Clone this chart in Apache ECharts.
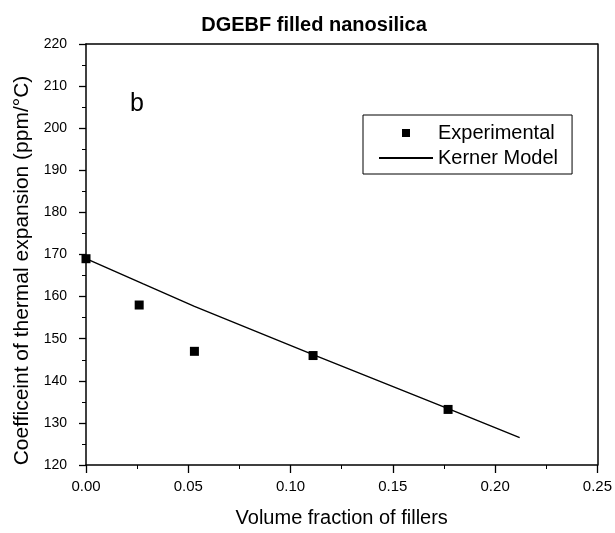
<!DOCTYPE html>
<html>
<head>
<meta charset="utf-8">
<script src="https://cdn.jsdelivr.net/npm/echarts@6/dist/echarts.min.js"></script>
<style>
html,body{margin:0;padding:0;background:#fff;}
#chart{width:615px;height:533px;}
</style>
</head>
<body>
<div id="chart"></div>
<script>
var titleText = 'DGEBF filled nanosilica';
var panelLabel = 'b';
var xAxisTitle = 'Volume fraction of fillers';
var yAxisTitle = 'Coefficeint of thermal expansion (ppm/\u00B0C)';
var seriesNames = ['Experimental', 'Kerner Model'];

var expX = [0.0, 0.026, 0.053, 0.111, 0.177];
var expY = [169.0, 158.0, 147.0, 146.0, 133.2];

var kernerX = [0.0, 0.028, 0.053, 0.111, 0.177, 0.212];
var kernerY = [169.0, 163.0, 157.7, 146.2, 133.4, 126.5];

var xMin = 0, xMax = 0.25, xStep = 0.05;
var yMin = 120, yMax = 220, yStep = 10;

function pairs(xs, ys){ return xs.map(function(x,i){ return [x, ys[i]]; }); }

var FONT = '"Liberation Sans", Arial, sans-serif';
var chart = echarts.init(document.getElementById('chart'), null, {renderer:'canvas'});
chart.setOption({
  animation: false,
  backgroundColor: '#fff',
  textStyle: {fontFamily: FONT, color: '#000'},
  title: [
    {text: titleText, left: 309, top: 10, textAlign: 'center',
     textStyle: {fontFamily: FONT, fontSize: 20, fontWeight: 'bold', color: '#000', lineHeight: 20}},
    {text: panelLabel, left: 125, top: 87,
     textStyle: {fontFamily: FONT, fontSize: 25, fontWeight: 'normal', color: '#000'}}
  ],
  legend: {
    orient: 'vertical',
    left: 363, top: 115,
    padding: [8, 14, 6, 15],
    itemGap: 5,
    itemWidth: 54, itemHeight: 8,
    symbolKeepAspect: true,
    borderColor: '#000', borderWidth: 1,
    textStyle: {fontFamily: FONT, fontSize: 20, color: '#000', lineHeight: 20},
    data: [
      {name: seriesNames[0], icon: 'path://M0,0L10,0L10,10L0,10Z', itemStyle: {color: '#000', opacity: 1}},
      {name: seriesNames[1], itemStyle: {color: 'rgba(0,0,0,0)', borderWidth: 0, opacity: 0}}
    ]
  },
  grid: {left: 86, right: 16, top: 44, bottom: 65, containLabel: false},
  xAxis: [{
    type: 'value', min: xMin, max: xMax, interval: xStep,
    name: xAxisTitle, nameLocation: 'middle', nameGap: 43,
    nameTextStyle: {fontFamily: FONT, fontSize: 20, color: '#000'},
    axisLine: {show: true, onZero: false, lineStyle: {color: '#000', width: 1.5}},
    axisTick: {show: true, inside: false, length: 8, lineStyle: {color: '#000', width: 1.3}},
    minorTick: {show: true, splitNumber: 2, length: 4, lineStyle: {color: '#000', width: 1}},
    axisLabel: {fontFamily: FONT, fontSize: 15, color: '#000', margin: 14,
      formatter: function(v){ return v.toFixed(2); }},
    splitLine: {show: false}
  }, {
    type: 'value', min: xMin, max: xMax, interval: xStep, position: 'top',
    axisLine: {show: true, onZero: false, lineStyle: {color: '#000', width: 1.5}},
    axisTick: {show: false}, axisLabel: {show: false}, splitLine: {show: false}
  }],
  yAxis: [{
    type: 'value', min: yMin, max: yMax, interval: yStep,
    name: yAxisTitle, nameLocation: 'middle', nameGap: 53,
    nameTextStyle: {fontFamily: FONT, fontSize: 21, color: '#000', padding: [0, 32, 0, 0]},
    axisLine: {show: true, onZero: false, lineStyle: {color: '#000', width: 1.5}},
    axisTick: {show: true, inside: false, length: 7, lineStyle: {color: '#000', width: 1.3}},
    minorTick: {show: true, splitNumber: 2, length: 4, lineStyle: {color: '#000', width: 1}},
    axisLabel: {fontFamily: FONT, fontSize: 14, color: '#000', margin: 19},
    splitLine: {show: false}
  }, {
    type: 'value', min: yMin, max: yMax, interval: yStep, position: 'right',
    axisLine: {show: true, onZero: false, lineStyle: {color: '#000', width: 1.5}},
    axisTick: {show: false}, axisLabel: {show: false}, splitLine: {show: false}
  }],
  series: [
    {
      name: seriesNames[0], type: 'scatter',
      symbol: 'rect', symbolSize: 9,
      itemStyle: {color: '#000', opacity: 1},
      data: pairs(expX, expY), z: 3
    },
    {
      name: seriesNames[1], type: 'line',
      showSymbol: false, symbol: 'none', smooth: false,
      lineStyle: {color: '#000', width: 1.4},
      itemStyle: {color: '#000'},
      data: pairs(kernerX, kernerY), z: 2
    }
  ]
});
</script>
</body>
</html>
